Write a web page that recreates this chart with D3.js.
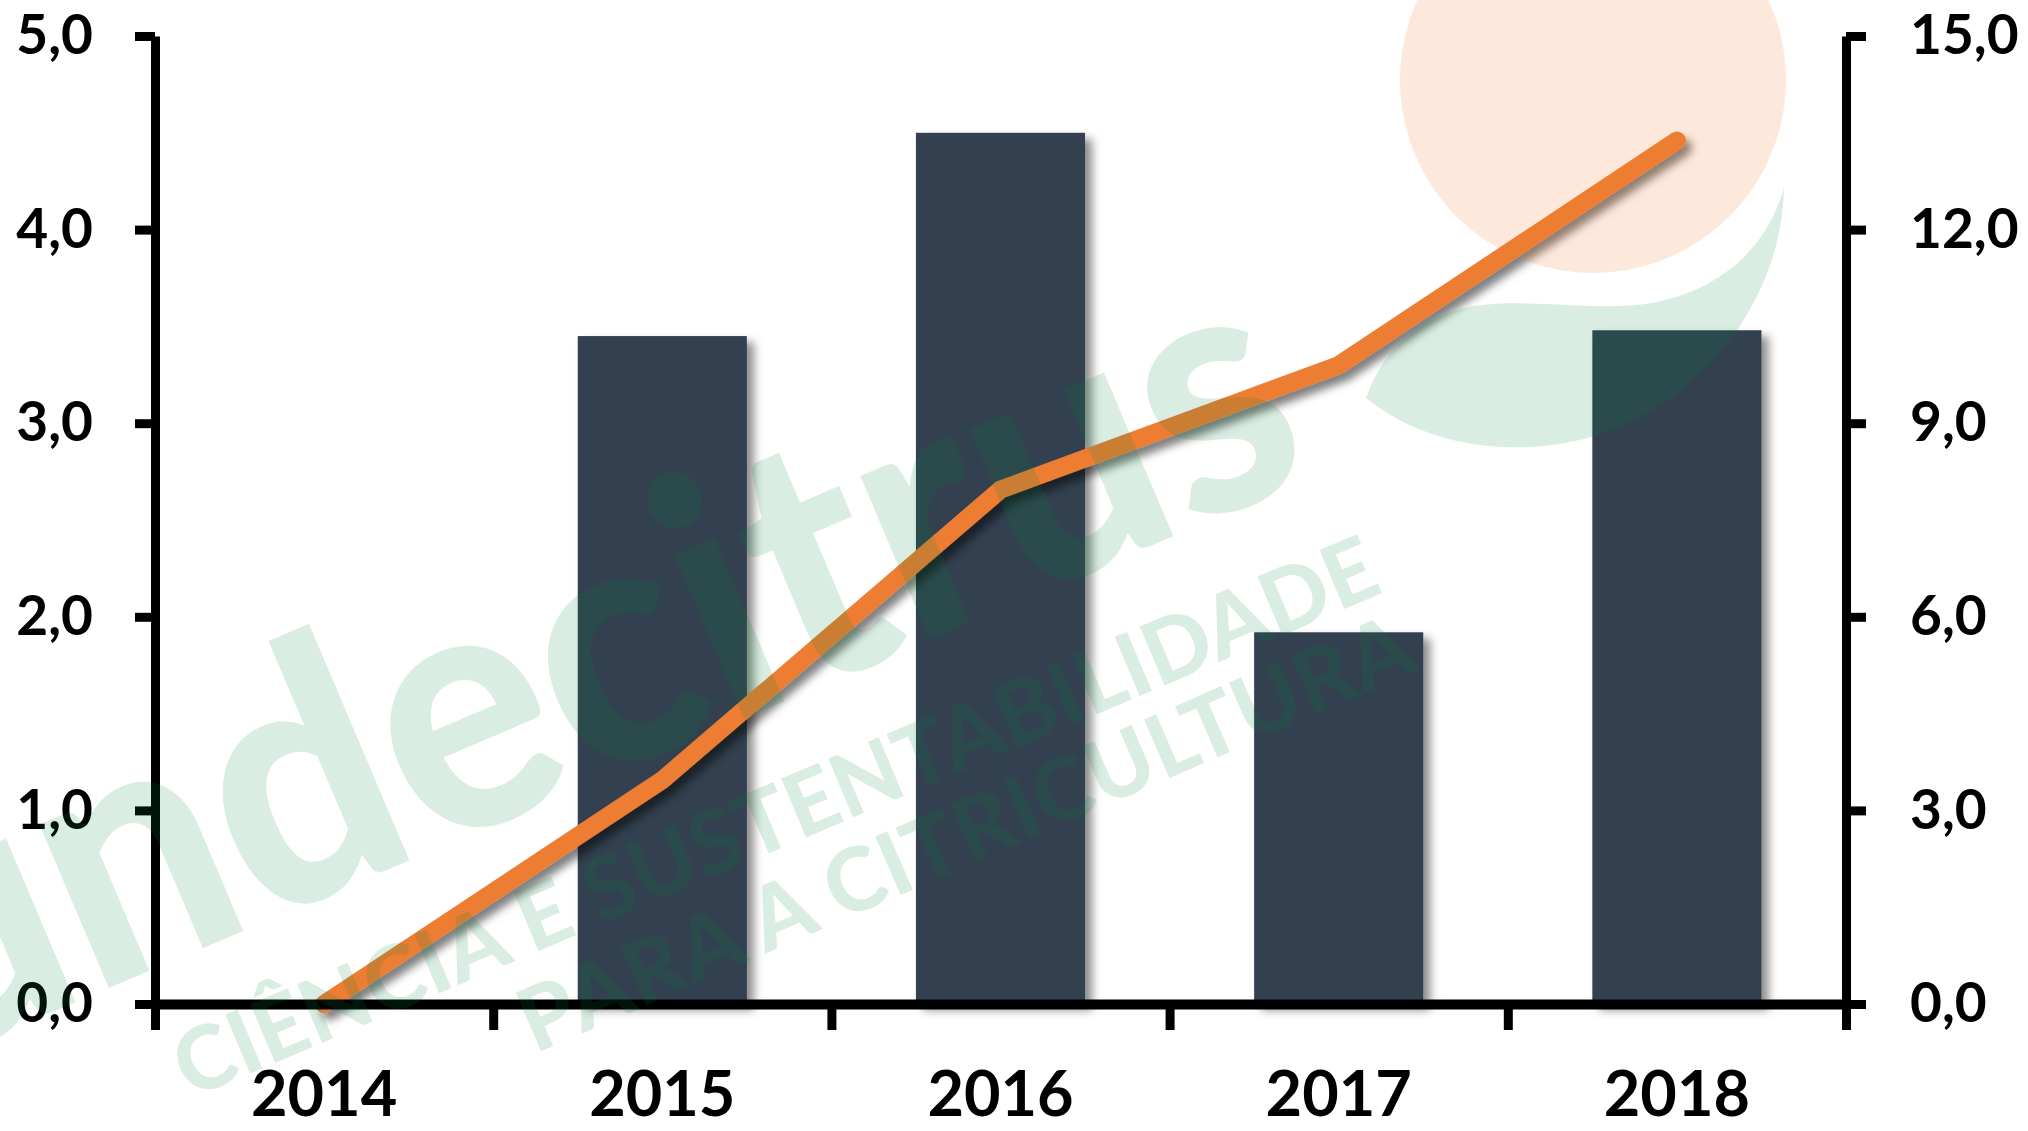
<!DOCTYPE html>
<html>
<head>
<meta charset="utf-8">
<script src="https://cdnjs.cloudflare.com/ajax/libs/d3/7.8.5/d3.min.js"></script>
<style>
  body { margin: 0; background: #ffffff; }
  svg { display: block; }
  .axis text { font-family: Lato, "Open Sans", sans-serif; font-weight: 700; fill: #000000; }
  .axis line, .axis path { stroke: #000000; stroke-linecap: butt; }
  .watermark { font-family: Lato, "Open Sans", sans-serif; font-weight: 900; fill: #00873c; fill-opacity: 0.15; }
</style>
</head>
<body>
<div id="wrapper"></div>
<script>
// data
const years = ["2014", "2015", "2016", "2017", "2018"];
const barValues = [0, 3.45, 4.5, 1.92, 3.48];      // left axis
const lineValues = [0, 3.47, 7.97, 9.9, 13.38];    // right axis
const leftTicks = [0, 1, 2, 3, 4, 5];
const rightTicks = [0, 3, 6, 9, 12, 15];

function drawChart() {
  //* Step 1. Access data
  const dataset = years.map((year, i) => ({
    year,
    bar: barValues[i],
    line: lineValues[i],
  }));
  const yearAccessor = (d) => d.year;
  const barAccessor = (d) => d.bar;
  const lineAccessor = (d) => d.line;

  //* Step 2. Create chart dimensions
  const dimensions = {
    width: 2028,
    height: 1131,
    margin: { top: 36, right: 182, bottom: 127, left: 155 },
  };
  dimensions.boundedWidth =
    dimensions.width - dimensions.margin.left - dimensions.margin.right;
  dimensions.boundedHeight =
    dimensions.height - dimensions.margin.top - dimensions.margin.bottom;

  //* Step 3. Draw canvas
  const wrapper = d3
    .select("#wrapper")
    .append("svg")
    .attr("width", dimensions.width)
    .attr("height", dimensions.height);

  const defs = wrapper.append("defs");
  const barShadow = defs
    .append("filter")
    .attr("id", "bar-shadow")
    .attr("x", "-10%")
    .attr("y", "-10%")
    .attr("width", "130%")
    .attr("height", "130%");
  barShadow
    .append("feDropShadow")
    .attr("dx", 7)
    .attr("dy", 6)
    .attr("stdDeviation", 5)
    .attr("flood-color", "#000")
    .attr("flood-opacity", 0.45);

  const lineShadow = defs
    .append("filter")
    .attr("id", "line-shadow")
    .attr("x", "-10%")
    .attr("y", "-10%")
    .attr("width", "130%")
    .attr("height", "130%");
  lineShadow
    .append("feDropShadow")
    .attr("dx", 6)
    .attr("dy", 7)
    .attr("stdDeviation", 4)
    .attr("flood-color", "#000")
    .attr("flood-opacity", 0.5);

  //* Step 4. Create scales
  const xScale = d3
    .scaleBand()
    .domain(years)
    .range([dimensions.margin.left, dimensions.margin.left + dimensions.boundedWidth]);

  const yLeftScale = d3
    .scaleLinear()
    .domain([0, 5])
    .range([dimensions.margin.top + dimensions.boundedHeight, dimensions.margin.top]);

  const yRightScale = d3
    .scaleLinear()
    .domain([0, 15])
    .range(yLeftScale.range());

  // boundaries between the year bands carry the x ticks
  const boundaryScale = d3
    .scaleLinear()
    .domain([0, years.length])
    .range(xScale.range());

  const commaFormat = d3
    .formatLocale({ decimal: ",", thousands: ".", grouping: [3], currency: ["R$", ""] })
    .format(".1f");

  //* Step 5. Draw data
  const barWidth = xScale.bandwidth() * 0.5;
  wrapper
    .append("g")
    .attr("filter", "url(#bar-shadow)")
    .selectAll("rect")
    .data(dataset.filter((d) => barAccessor(d) > 0))
    .join("rect")
    .attr("x", (d) => xScale(yearAccessor(d)) + (xScale.bandwidth() - barWidth) / 2)
    .attr("y", (d) => yLeftScale(barAccessor(d)))
    .attr("width", barWidth)
    .attr("height", (d) => yLeftScale(0) - yLeftScale(barAccessor(d)))
    .attr("fill", "#333f50");

  const lineGenerator = d3
    .line()
    .x((d) => xScale(yearAccessor(d)) + xScale.bandwidth() / 2)
    .y((d) => yRightScale(lineAccessor(d)));

  wrapper
    .append("path")
    .attr("d", lineGenerator(dataset))
    .attr("fill", "none")
    .attr("stroke", "#ed7d31")
    .attr("stroke-width", 18)
    .attr("stroke-linecap", "round")
    .attr("stroke-linejoin", "miter")
    .attr("filter", "url(#line-shadow)");

  //* Step 6. Draw peripherals
  const leftAxis = d3
    .axisLeft(yLeftScale)
    .tickValues(leftTicks)
    .tickFormat(commaFormat)
    .tickSize(20)
    .tickSizeOuter(0)
    .tickPadding(42);

  const rightAxis = d3
    .axisRight(yRightScale)
    .tickValues(rightTicks)
    .tickFormat(commaFormat)
    .tickSize(20)
    .tickSizeOuter(0)
    .tickPadding(44);

  const boundaryAxis = d3
    .axisBottom(boundaryScale)
    .tickValues(d3.range(years.length + 1))
    .tickFormat("")
    .tickSize(26)
    .tickSizeOuter(0);

  const yearAxis = d3.axisBottom(xScale).tickSize(0).tickPadding(67);

  const leftAxisGroup = wrapper
    .append("g")
    .attr("class", "axis")
    .attr("transform", `translate(${xScale.range()[0]},0)`)
    .call(leftAxis);

  const rightAxisGroup = wrapper
    .append("g")
    .attr("class", "axis")
    .attr("transform", `translate(${xScale.range()[1]},0)`)
    .call(rightAxis);

  const boundaryAxisGroup = wrapper
    .append("g")
    .attr("class", "axis")
    .attr("transform", `translate(0,${yLeftScale(0)})`)
    .call(boundaryAxis);

  const yearAxisGroup = wrapper
    .append("g")
    .attr("class", "axis")
    .attr("transform", `translate(0,${yLeftScale(0)})`)
    .call(yearAxis);
  yearAxisGroup.select(".domain").remove();

  [leftAxisGroup, rightAxisGroup].forEach((g) => {
    g.attr("font-family", null).attr("font-size", null);
    g.selectAll("text").style("font-size", "55px");
  });
  yearAxisGroup.attr("font-family", null).attr("font-size", null);
  yearAxisGroup.selectAll("text").style("font-size", "63px");
  [leftAxisGroup, rightAxisGroup, boundaryAxisGroup].forEach((g) => {
    g.selectAll("line, path").attr("stroke-width", 9);
  });
  boundaryAxisGroup.select(".domain").attr("stroke-width", 10);

  //* Step 7. Watermark (drawn on top, translucent)
  const watermark = wrapper.append("g").attr("pointer-events", "none");

  watermark
    .append("circle")
    .attr("cx", 1593)
    .attr("cy", 80)
    .attr("r", 193)
    .attr("fill", "#ed7d31")
    .attr("fill-opacity", 0.17);

  watermark
    .append("path")
    .attr(
      "d",
      "M1366,398 C1385,345 1425,312 1482,305 C1540,299 1600,312 1652,303 " +
        "C1712,292 1765,255 1784,188 C1782,300 1700,410 1580,440 " +
        "C1500,458 1420,442 1366,398 Z"
    )
    .attr("fill", "#00873c")
    .attr("fill-opacity", 0.15);

  // the logo word runs off the left edge, as in the original
  watermark
    .append("text")
    .attr("class", "watermark")
    .attr("transform", "translate(1320,474) rotate(-23)")
    .attr("text-anchor", "end")
    .attr("textLength", 1630)
    .attr("lengthAdjust", "spacingAndGlyphs")
    .style("font-size", "345px")
    .text("fundecitrus");

  watermark
    .append("text")
    .attr("class", "watermark")
    .attr("transform", "translate(190,1099) rotate(-23)")
    .attr("textLength", 1298)
    .attr("lengthAdjust", "spacing")
    .style("font-size", "88px")
    .text("CIÊNCIA E SUSTENTABILIDADE");

  watermark
    .append("text")
    .attr("class", "watermark")
    .attr("transform", "translate(535,1054) rotate(-23.5)")
    .attr("textLength", 965)
    .attr("lengthAdjust", "spacing")
    .style("font-size", "88px")
    .text("PARA A CITRICULTURA");
}

drawChart();
</script>
</body>
</html>
